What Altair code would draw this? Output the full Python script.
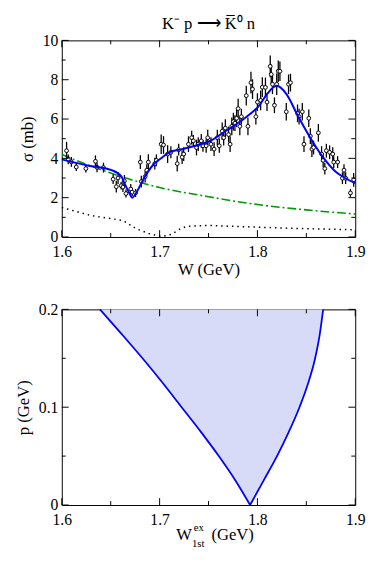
import altair as alt
import pandas as pd

FONT = "Liberation Serif, Times New Roman, serif"

# ---------------- top panel data ----------------
W_PTS = [1.6049, 1.6066, 1.6098, 1.6148, 1.6246, 1.6344, 1.6360, 1.6426, 1.6525, 1.6557,
         1.6575, 1.6607, 1.6625, 1.6640, 1.6656, 1.6705, 1.6720, 1.6754, 1.6803, 1.6813,
         1.6852, 1.6869, 1.6885, 1.6951, 1.6967, 1.7016, 1.7040, 1.7082, 1.7115, 1.7180,
         1.7195, 1.7230, 1.7246, 1.7295, 1.7328, 1.7345, 1.7377, 1.7395, 1.7426, 1.7443,
         1.7476, 1.7492, 1.7525, 1.7557, 1.7590, 1.7610, 1.7640, 1.7655, 1.7672, 1.7705,
         1.7721, 1.7738, 1.7754, 1.7770, 1.7787, 1.7803, 1.7820, 1.7836, 1.7886, 1.7903,
         1.7934, 1.7950, 1.7984, 1.8000, 1.8033, 1.8050, 1.8082, 1.8098, 1.8131, 1.8141,
         1.8154, 1.8174, 1.8197, 1.8213, 1.8230, 1.8295, 1.8318, 1.8338, 1.8410, 1.8426,
         1.8459, 1.8476, 1.8525, 1.8541, 1.8557, 1.8574, 1.8623, 1.8656, 1.8672, 1.8689,
         1.8705, 1.8738, 1.8770, 1.8780, 1.8820, 1.8869, 1.8885, 1.8902, 1.8951, 1.8984]
SIG_PTS = [4.39, 3.95, 3.82, 3.56, 3.48, 3.85, 3.55, 3.53, 2.94, 2.56,
           3.00, 2.61, 2.54, 2.85, 2.21, 2.44, 2.28, 2.24, 3.81, 2.82,
           3.07, 3.40, 3.81, 3.73, 3.90, 4.72, 4.68, 4.22, 4.31, 3.73,
           4.44, 4.06, 4.22, 4.72, 5.05, 4.89, 4.55, 4.72, 4.89, 4.64,
           4.64, 5.05, 4.72, 4.47, 5.05, 4.64, 5.38, 5.05, 5.54, 5.21,
           4.72, 5.63, 5.87, 5.79, 6.04, 6.53, 5.63, 6.12, 7.19, 5.63,
           7.85, 7.52, 6.12, 6.86, 6.95, 7.62, 7.61, 6.86, 8.68, 8.27,
           7.77, 6.70, 7.77, 8.43, 8.43, 6.37, 7.77, 7.85, 6.29, 6.12,
           6.37, 4.72, 6.04, 5.13, 4.47, 4.55, 5.30, 4.22, 3.90, 3.48,
           4.39, 4.31, 4.22, 3.81, 3.81, 2.99, 3.40, 2.99, 2.24, 2.91]
ERR_PTS = [0.45, 0.25, 0.25, 0.20, 0.20, 0.30, 0.25, 0.25, 0.25, 0.30,
           0.30, 0.20, 0.25, 0.30, 0.20, 0.25, 0.20, 0.20, 0.35, 0.30,
           0.30, 0.30, 0.40, 0.30, 0.30, 0.50, 0.45, 0.45, 0.30, 0.40,
           0.30, 0.35, 0.35, 0.40, 0.35, 0.30, 0.40, 0.35, 0.35, 0.30,
           0.35, 0.40, 0.35, 0.35, 0.40, 0.35, 0.45, 0.40, 0.45, 0.40,
           0.40, 0.45, 0.45, 0.40, 0.45, 0.50, 0.45, 0.40, 0.50, 0.45,
           0.55, 0.50, 0.40, 0.45, 0.50, 0.50, 0.50, 0.45, 0.55, 0.50,
           0.50, 0.40, 0.55, 0.55, 0.50, 0.45, 0.50, 0.45, 0.45, 0.40,
           0.45, 0.40, 0.45, 0.40, 0.40, 0.35, 0.45, 0.40, 0.35, 0.30,
           0.35, 0.35, 0.35, 0.30, 0.30, 0.30, 0.30, 0.30, 0.20, 0.35]

W_FIT = [1.600, 1.625, 1.651, 1.661, 1.664, 1.669, 1.672, 1.677, 1.684, 1.693,
         1.703, 1.710, 1.723, 1.739, 1.7525, 1.762, 1.775, 1.789, 1.802, 1.810,
         1.8197, 1.8295, 1.841, 1.854, 1.867, 1.880, 1.890, 1.900]
SIG_FIT = [3.95, 3.65, 3.40, 3.07, 2.74, 2.24, 2.00, 2.33, 2.99, 3.65,
           4.06, 4.31, 4.47, 4.68, 4.90, 5.21, 5.63, 6.12, 6.70, 7.28,
           7.69, 7.28, 6.20, 5.05, 4.06, 3.32, 2.99, 2.74]

W_BG = [1.600, 1.625, 1.650, 1.675, 1.700, 1.750, 1.800, 1.850, 1.900]
SIG_BG = [4.20, 3.70, 3.25, 2.85, 2.52, 2.05, 1.65, 1.38, 1.17]

W_DOT = [1.600, 1.630, 1.6626, 1.6757, 1.6888, 1.702, 1.7118, 1.7217, 1.728, 1.748,
         1.794, 1.843, 1.900]
SIG_DOT = [1.50, 1.09, 0.84, 0.43, 0.18, 0.02, 0.13, 0.43, 0.54, 0.59,
           0.51, 0.43, 0.37]

# ---------------- bottom panel data ----------------
P_VALS = [0.0, 0.025, 0.05, 0.075, 0.1, 0.125, 0.15, 0.175, 0.2]
W_LEFT = [1.7925, 1.7775, 1.7605, 1.7420, 1.7225, 1.7030, 1.6825, 1.6610, 1.6390]
W_RIGHT = [1.7925, 1.8063, 1.8200, 1.8322, 1.8430, 1.8520, 1.8590, 1.8638, 1.8672]

# tick values
X_MAJOR = [1.6, 1.7, 1.8, 1.9]
X_MINOR = [1.65, 1.75, 1.85]
Y1_MAJOR = [0, 2, 4, 6, 8, 10]
Y1_MINOR = [1, 3, 5, 7, 9]
Y2_MAJOR = [0, 0.1, 0.2]
Y2_MINOR = [0.05, 0.15]

TITLE = "K⁻ p ⟶ K̅⁰ n"

PW = 300
PH1, PH2 = 201, 200
MAJ, MIN = 7, 4

xscale = alt.Scale(domain=[1.6, 1.9], nice=False, zero=False)
y1scale = alt.Scale(domain=[0, 10], nice=False)
y2scale = alt.Scale(domain=[0, 0.2], nice=False)


def xax(title):
    return alt.Axis(values=X_MAJOR, format=".1f", ticks=False, domain=False, grid=False,
                    title=title, labelPadding=7, titlePadding=2, labelFlush=False)


def yax(vals, fmt, title):
    return alt.Axis(values=vals, format=fmt, ticks=False, domain=False, grid=False,
                    title=title, labelPadding=4, titlePadding=6)


def tick_layers(xmaj, xmin, ymaj, ymin, X, Y, ph):
    layers = []
    for vals, ln in ((xmaj, MAJ), (xmin, MIN)):
        d = pd.DataFrame({"v": vals})
        base = alt.Chart(d).mark_rule(color="black", strokeWidth=1)
        layers.append(base.encode(x=X("v"), y=alt.value(ph), y2=alt.value(ph - ln)))
        layers.append(base.encode(x=X("v"), y=alt.value(0), y2=alt.value(ln)))
    for vals, ln in ((ymaj, MAJ), (ymin, MIN)):
        d = pd.DataFrame({"v": vals})
        base = alt.Chart(d).mark_rule(color="black", strokeWidth=1)
        layers.append(base.encode(y=Y("v"), x=alt.value(0), x2=alt.value(ln)))
        layers.append(base.encode(y=Y("v"), x=alt.value(PW), x2=alt.value(PW - ln)))
    return layers


one = pd.DataFrame({"a": [0]})


def label(text, size, x, y, align="left"):
    return alt.Chart(one).mark_text(text=text, font=FONT, fontSize=size, align=align,
                                    baseline="alphabetic", color="black").encode(
        x=alt.value(x), y=alt.value(y))


# ---------- top panel ----------
def X1(f):
    return alt.X(f"{f}:Q", scale=xscale, axis=xax("W (GeV)"))


def Y1(f):
    return alt.Y(f"{f}:Q", scale=y1scale, axis=yax(Y1_MAJOR, "d", "σ (mb)"))


pts = pd.DataFrame({"W": W_PTS, "s": SIG_PTS,
                    "lo": [s - e for s, e in zip(SIG_PTS, ERR_PTS)],
                    "hi": [s + e for s, e in zip(SIG_PTS, ERR_PTS)]})
fit = pd.DataFrame({"W": W_FIT, "s": SIG_FIT})
bg = pd.DataFrame({"W": W_BG, "s": SIG_BG})
dot = pd.DataFrame({"W": W_DOT, "s": SIG_DOT})

errbars = alt.Chart(pts).mark_rule(color="black", strokeWidth=1.3).encode(
    x=X1("W"), y=Y1("lo"), y2="hi:Q")
circles = alt.Chart(pts).mark_point(shape="circle", size=15, filled=True, fill="white",
                                     stroke="black", strokeWidth=1, opacity=1).encode(
    x=X1("W"), y=Y1("s"))
bg_line = alt.Chart(bg).mark_line(color="#009a00", strokeWidth=1.6,
                                  strokeDash=[9, 3, 2, 3], interpolate="monotone").encode(
    x=X1("W"), y=Y1("s"))
dot_line = alt.Chart(dot).mark_line(color="black", strokeWidth=1.5,
                                    strokeDash=[1.5, 4]).encode(x=X1("W"), y=Y1("s"))
fit_line = alt.Chart(fit).mark_line(color="#0000ff", strokeWidth=2,
                                    interpolate="monotone").encode(x=X1("W"), y=Y1("s"))

top = alt.layer(
    dot_line, bg_line, errbars, circles, fit_line,
    *tick_layers(X_MAJOR, X_MINOR, Y1_MAJOR, Y1_MINOR, X1, Y1, PH1),
    label(TITLE, 17, PW / 2, -12, align="center")
).properties(width=PW, height=PH1)


# ---------- bottom panel ----------
def X2(f):
    return alt.X(f"{f}:Q", scale=xscale, axis=xax(""))


def Y2(f):
    return alt.Y(f"{f}:Q", scale=y2scale, axis=yax(Y2_MAJOR, ".1~f", "p (GeV)"))


region = pd.DataFrame({"p": P_VALS, "wl": W_LEFT, "wr": W_RIGHT})
left_curve = pd.DataFrame({"W": W_LEFT, "p": P_VALS})
right_curve = pd.DataFrame({"W": W_RIGHT, "p": P_VALS})

area = alt.Chart(region).mark_area(color="#d8dbf7", opacity=1, orient="horizontal",
                                   interpolate="monotone").encode(
    y=Y2("p"), x=X2("wl"), x2="wr:Q")
left_line = alt.Chart(left_curve).mark_line(color="#0000ff", strokeWidth=1.8,
                                            interpolate="monotone").encode(
    x=X2("W"), y=Y2("p"))
right_line = alt.Chart(right_curve).mark_line(color="#0000ff", strokeWidth=1.8,
                                              interpolate="monotone").encode(
    x=X2("W"), y=Y2("p"))

bottom = alt.layer(
    area, left_line, right_line,
    *tick_layers(X_MAJOR, X_MINOR, Y2_MAJOR, Y2_MINOR, X2, Y2, PH2),
    label("W", 17, 117, PH2 + 36),
    label("ex", 11, 135, PH2 + 27),
    label("1st", 11, 133, PH2 + 43),
    label("(GeV)", 17, 153, PH2 + 36),
).properties(width=PW, height=PH2)

chart = alt.vconcat(top, bottom, spacing=23).properties(
    padding={"left": 6, "top": 0, "right": 0, "bottom": 0}
).configure_view(stroke="black", strokeWidth=1).configure_axis(
    labelFont=FONT, labelFontSize=16, labelColor="black",
    titleFont=FONT, titleFontSize=17, titleFontWeight="normal", titleColor="black"
)

chart.save("out.html", embed_options={"renderer": "svg", "actions": False})
